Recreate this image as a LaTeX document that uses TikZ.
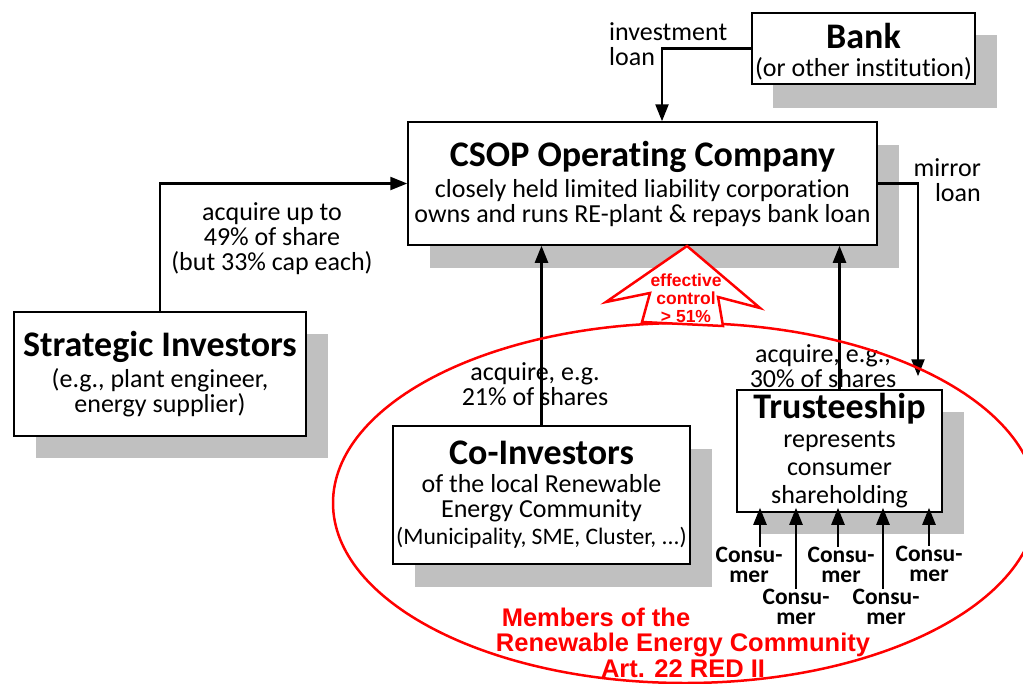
\documentclass[tikz,border=0pt]{standalone}
\usepackage{fontspec}
\setmainfont{Carlito}[Ligatures={NoCommon}]
\newfontfamily\arialfont{Liberation Sans}
\usetikzlibrary{arrows.meta}
\definecolor{shadowgray}{RGB}{192,192,192}
\newcommand{\boxtitle}[1]{{\fontsize{36}{36}\selectfont\bfseries #1}}
\begin{document}
\begin{tikzpicture}[x=1pt,y=-1pt,
  box/.style={draw=black, line width=1.5pt, fill=white, inner sep=0pt, align=center,
    font=\fontsize{26}{25}\selectfont},
  conn/.style={line width=2.4pt, -{Triangle[width=13pt,length=17pt]}},
  lbl/.style={align=center, font=\fontsize{26}{25}\selectfont, inner sep=0pt},
  cons/.style={align=center, font=\fontsize{23.5}{20.5}\selectfont\bfseries, inner sep=0pt},
  redtxt/.style={text=red, font=\arialfont\bfseries\fontsize{25.5}{25.5}\selectfont, align=center, inner sep=0pt},
  ctrltxt/.style={text=red, font=\arialfont\bfseries\fontsize{17.5}{18}\selectfont, align=center, inner sep=0pt}
]
\useasboundingbox (0,0) rectangle (1023,683);
% shadows
\fill[shadowgray] (773,35) rectangle (997,108);
\fill[shadowgray] (430,145) rectangle (899,268);
\fill[shadowgray] (36,334) rectangle (328,458);
\fill[shadowgray] (415,449) rectangle (712,587);
\fill[shadowgray] (759,412) rectangle (964,534);
% boxes
\node[box, minimum width=223pt, minimum height=71pt] (bank) at (863.5,48.5)
  {\boxtitle{\rule{0pt}{32pt}Bank}\\[3pt](or other institution)};
\node[box, minimum width=469pt, minimum height=123pt] (csop) at (642.5,183.5)
  {\boxtitle{CSOP Operating Company}\\[6pt]closely held limited liability corporation\\owns and runs RE-plant \& repays bank loan};
\node[box, minimum width=292pt, minimum height=124pt] (strat) at (160,374)
  {\boxtitle{Strategic Investors}\\[5pt](e.g., plant engineer,\\energy supplier)};
\node[box, minimum width=297pt, minimum height=138pt] (co) at (541.5,495)
  {\boxtitle{Co-Investors}\\[3pt]of the local Renewable\\Energy Community\\[2pt]{\fontsize{23.6}{25}\selectfont(Municipality, SME, Cluster, ...)}};
\node[box, minimum width=205pt, minimum height=122pt] (trust) at (839.5,451)
  {\boxtitle{Trusteeship}\\[4pt]represents\\[3pt]consumer\\[3pt]shareholding};
% labels
\node[lbl] (l1) at (272,239) {acquire up to\\49\% of share\\(but 33\% cap each)};
\node[lbl, align=left, anchor=west] (l2) at (609,44.5) {investment\\loan};
\node[lbl, align=right, anchor=east] (l3) at (981,180) {mirror\\loan};
\node[lbl] (l4) at (535,384) {acquire, e.g.\\21\% of shares};
\node[lbl] (l5) at (823,366) {acquire, e.g.,\\30\% of shares};
% connectors
\draw[conn] (strat.north) |- (csop.west);
\draw[conn] (bank.west) -| ([xshift=19.5pt]csop.north);
\draw[conn] (csop.east) -| ([xshift=78.5pt,yshift=13pt]trust.north);
\draw[conn] (co.north) -- (co.north |- csop.south);
\draw[conn] (trust.north) -- (trust.north |- csop.south);
% consumers
\node[cons] (c1) at (749,565) {Consu-\\mer};
\node[cons] (c2) at (796,607) {Consu-\\mer};
\node[cons] (c3) at (841,565) {Consu-\\mer};
\node[cons] (c4) at (886,607) {Consu-\\mer};
\node[cons] (c5) at (929,564) {Consu-\\mer};
\draw[conn, shorten >=-5pt] ([xshift=11pt]c1.north) -- ([xshift=11pt]c1.north |- trust.south);
\draw[conn, shorten >=-5pt] (c2.north) -- (c2.north |- trust.south);
\draw[conn, shorten >=-5pt] ([xshift=-3pt]c3.north) -- ([xshift=-3pt]c3.north |- trust.south);
\draw[conn, shorten >=-5pt] ([xshift=-3pt]c4.north) -- ([xshift=-3pt]c4.north |- trust.south);
\draw[conn, shorten >=-5pt] (c5.north) -- (c5.north |- trust.south);
% community ellipse
\draw[red, line width=2.5pt] (685,503) ellipse [x radius=352pt, y radius=180pt];
\node[redtxt] (rec1) at (596,617) {Members of the};
\node[redtxt] (rec2) at (683,655.5) {Renewable Energy Community\\Art. 22 RED II};
% effective control arrow
\draw[red, line width=2.5pt, fill=white, line join=miter]
  (687,246) -- (760,308) -- (718,297) -- (723,326) -- (642,322) -- (650,293) -- (606,302) -- cycle;
\node[ctrltxt] (ctrl) at (686,298) {effective\\control\\> 51\%};
\end{tikzpicture}
\end{document}
